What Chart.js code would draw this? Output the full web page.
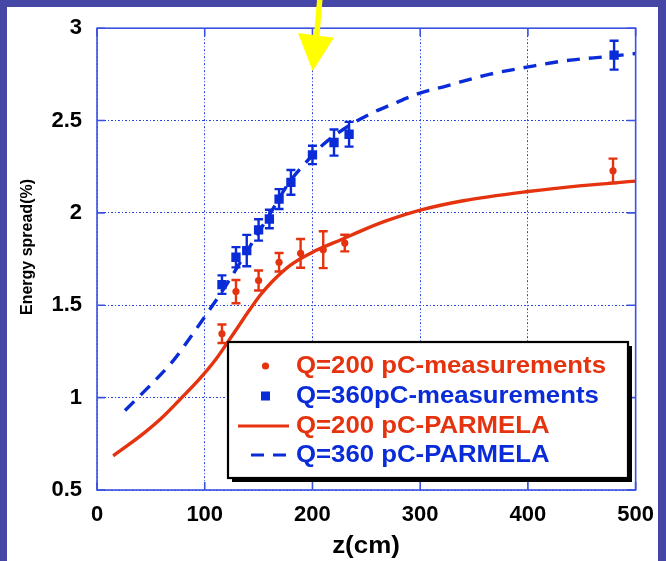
<!DOCTYPE html>
<html>
<head>
<meta charset="utf-8">
<script src="https://cdn.jsdelivr.net/npm/chart.js@4/dist/chart.umd.min.js"></script>
<style>
  html, body { margin: 0; padding: 0; background: #4646a6; }
  #wrap { width: 666px; height: 561px; }
</style>
</head>
<body>
<div id="wrap"><canvas id="c" width="666" height="561"></canvas></div>
<script>
// Beam line position z (cm) and measured energy spread (%)
const meas200Z = [116, 129, 150, 169, 189, 210, 230, 479];
const meas200 = [1.346, 1.574, 1.634, 1.733, 1.781, 1.801, 1.837, 2.228];
const meas200Err = [0.05, 0.063, 0.054, 0.05, 0.078, 0.10, 0.045, 0.066];

const meas360Z = [116, 129, 139, 150, 160, 169, 180, 200, 220, 234, 480];
const meas360 = [1.612, 1.760, 1.796, 1.908, 1.967, 2.075, 2.165, 2.314, 2.381, 2.426, 2.854];
const meas360Err = [0.05, 0.055, 0.085, 0.058, 0.05, 0.054, 0.067, 0.05, 0.071, 0.067, 0.078];

// PARMELA simulation curves
const sim200Z = [15, 30, 45, 60, 77, 95, 110, 121, 132, 142, 152, 162, 179, 203, 228, 250, 271, 300, 340, 400, 450, 500];
const sim200 = [0.685, 0.748, 0.815, 0.89, 0.99, 1.10, 1.205, 1.297, 1.392, 1.478, 1.558, 1.625, 1.715, 1.796, 1.859, 1.915, 1.962, 2.015, 2.066, 2.116, 2.148, 2.172];

const sim360Z = [26, 38, 50, 71, 89, 103, 120, 140, 160, 179, 195, 210, 232, 256, 274, 299, 324, 364, 399, 432, 478, 500];
const sim360 = [0.93, 1.0, 1.07, 1.202, 1.346, 1.463, 1.61, 1.80, 1.99, 2.17, 2.28, 2.37, 2.465, 2.543, 2.588, 2.647, 2.687, 2.75, 2.789, 2.822, 2.849, 2.863];

const xTicks = [0, 100, 200, 300, 400, 500];
const yTicks = [0.5, 1, 1.5, 2, 2.5, 3];
const yTickLabels = ['0.5', '1', '1.5', '2', '2.5', '3'];

const legendLabels = ['Q=200 pC-measurements', 'Q=360pC-measurements', 'Q=200 pC-PARMELA', 'Q=360 pC-PARMELA'];
const xTitle = 'z(cm)';
const yTitle = 'Energy spread(%)';

const RED = '#e5330f';
const BLUE = '#0a2bd8';
const GRID = '#2a44e0';
const FONT = "'Liberation Sans', Arial, sans-serif";

const pts = (xs, ys) => xs.map((x, i) => ({ x: x, y: ys[i] }));

// Slide background with white panel
const backdrop = {
  id: 'backdrop',
  beforeDraw(chart) {
    const ctx = chart.ctx;
    ctx.save();
    ctx.fillStyle = '#4646a6';
    ctx.fillRect(0, 0, chart.width, chart.height);
    ctx.fillStyle = '#ffffff';
    ctx.fillRect(7, 7, 651, chart.height - 7);
    ctx.restore();
  }
};

// Vertical error bars for the measurement series
const errorBars = {
  id: 'errorBars',
  afterDatasetsDraw(chart) {
    const ctx = chart.ctx;
    const ys = chart.scales.y;
    chart.data.datasets.forEach((ds, di) => {
      if (!ds.errors) return;
      const meta = chart.getDatasetMeta(di);
      ctx.save();
      ctx.strokeStyle = ds.borderColor;
      ctx.lineWidth = 2.4;
      meta.data.forEach((el, i) => {
        const v = ds.data[i].y, e = ds.errors[i];
        const x = el.x;
        const y1 = ys.getPixelForValue(v + e);
        const y2 = ys.getPixelForValue(v - e);
        ctx.beginPath();
        ctx.moveTo(x, y1); ctx.lineTo(x, y2);
        ctx.moveTo(x - 4.5, y1); ctx.lineTo(x + 4.5, y1);
        ctx.moveTo(x - 4.5, y2); ctx.lineTo(x + 4.5, y2);
        ctx.stroke();
      });
      ctx.restore();
    });
  }
};

// Plot frame, inward ticks, titles, legend box and pointer arrow
const decorations = {
  id: 'decorations',
  afterDraw(chart) {
    const ctx = chart.ctx;
    const a = chart.chartArea;
    const xs = chart.scales.x, ys = chart.scales.y;
    ctx.save();

    // frame
    ctx.strokeStyle = '#3a52e2';
    ctx.lineWidth = 1.6;
    ctx.strokeRect(a.left, a.top, a.right - a.left, a.bottom - a.top);

    // inward tick marks on all four sides
    ctx.beginPath();
    xTicks.forEach(v => {
      const x = xs.getPixelForValue(v);
      ctx.moveTo(x, a.bottom); ctx.lineTo(x, a.bottom - 8);
      ctx.moveTo(x, a.top); ctx.lineTo(x, a.top + 8);
    });
    yTicks.forEach(v => {
      const y = ys.getPixelForValue(v);
      ctx.moveTo(a.left, y); ctx.lineTo(a.left + 8, y);
      ctx.moveTo(a.right, y); ctx.lineTo(a.right - 9, y);
    });
    ctx.stroke();

    // axis titles
    ctx.fillStyle = '#000000';
    ctx.textAlign = 'center';
    ctx.textBaseline = 'middle';
    ctx.save();
    ctx.translate(366, 546);
    ctx.scale(1.08, 1);
    ctx.font = 'bold 24px ' + FONT;
    ctx.fillText(xTitle, 0, 0);
    ctx.restore();

    ctx.save();
    ctx.translate(28, 247);
    ctx.rotate(-Math.PI / 2);
    ctx.font = 'bold 16px ' + FONT;
    ctx.fillText(yTitle, 0, 0);
    ctx.restore();

    // legend box with drop shadow
    const bx = 228, by = 342, bw = 400, bh = 136;
    ctx.fillStyle = '#000000';
    ctx.fillRect(bx + 4, by + 4, bw, bh);
    ctx.fillStyle = '#ffffff';
    ctx.fillRect(bx, by, bw, bh);
    ctx.strokeStyle = '#000000';
    ctx.lineWidth = 2.2;
    ctx.strokeRect(bx, by, bw, bh);

    const rows = [366, 396, 426, 455];
    const colors = [RED, BLUE, RED, BLUE];
    // markers
    ctx.fillStyle = RED;
    ctx.beginPath(); ctx.arc(265.5, rows[0], 3.6, 0, Math.PI * 2); ctx.fill();
    ctx.fillStyle = BLUE;
    ctx.fillRect(261, rows[1] - 4.5, 9, 9);
    // line samples
    ctx.lineWidth = 3.2;
    ctx.strokeStyle = RED;
    ctx.beginPath(); ctx.moveTo(238, rows[2]); ctx.lineTo(289, rows[2]); ctx.stroke();
    ctx.strokeStyle = BLUE;
    ctx.setLineDash([13, 9]);
    ctx.lineDashOffset = 0;
    ctx.beginPath(); ctx.moveTo(251, rows[3]); ctx.lineTo(289, rows[3]); ctx.stroke();
    ctx.setLineDash([]);

    // legend texts
    ctx.textAlign = 'left';
    ctx.textBaseline = 'middle';
    legendLabels.forEach((t, i) => {
      ctx.save();
      ctx.translate(296, rows[i] + 1);
      ctx.scale(1.12, 1);
      ctx.font = 'bold 23px ' + FONT;
      ctx.fillStyle = colors[i];
      ctx.fillText(t, 0, 0);
      ctx.restore();
    });

    // yellow pointer arrow
    ctx.fillStyle = '#ffff00';
    ctx.beginPath();
    ctx.moveTo(317, 0);
    ctx.lineTo(322.5, 0);
    ctx.lineTo(319.5, 36);
    ctx.lineTo(334, 37.5);
    ctx.lineTo(312.7, 71);
    ctx.lineTo(298, 33);
    ctx.lineTo(314, 35);
    ctx.closePath();
    ctx.fill();

    ctx.restore();
  }
};

new Chart(document.getElementById('c'), {
  type: 'scatter',
  data: {
    datasets: [
      {
        label: legendLabels[2],
        data: pts(sim200Z, sim200),
        showLine: true,
        borderColor: RED,
        borderWidth: 3.4,
        pointRadius: 0,
        cubicInterpolationMode: 'monotone',
        order: 3
      },
      {
        label: legendLabels[3],
        data: pts(sim360Z, sim360),
        showLine: true,
        borderColor: BLUE,
        borderWidth: 3.4,
        borderDash: [13, 9],
        pointRadius: 0,
        cubicInterpolationMode: 'monotone',
        order: 4
      },
      {
        label: legendLabels[0],
        data: pts(meas200Z, meas200),
        errors: meas200Err,
        borderColor: RED,
        backgroundColor: RED,
        pointStyle: 'circle',
        pointRadius: 3.6,
        pointBorderWidth: 0,
        order: 1
      },
      {
        label: legendLabels[1],
        data: pts(meas360Z, meas360),
        errors: meas360Err,
        borderColor: BLUE,
        backgroundColor: BLUE,
        pointStyle: 'rect',
        pointRadius: 6.6,
        pointBorderWidth: 0,
        order: 2
      }
    ]
  },
  options: {
    responsive: false,
    animation: false,
    devicePixelRatio: 1,
    layout: { padding: { left: 0, top: 27, right: 29, bottom: 0 } },
    plugins: {
      legend: { display: false },
      tooltip: { enabled: false }
    },
    scales: {
      x: {
        type: 'linear',
        min: 0, max: 500,
        afterFit(s) { s.height = 71; },
        afterBuildTicks(s) { s.ticks = xTicks.map(v => ({ value: v })); },
        grid: { color: GRID, lineWidth: 1, drawTicks: false },
        border: { display: false, dash: [2, 2, 1, 2] },
        ticks: {
          padding: 12,
          color: '#000000',
          font: { family: FONT, size: 22, weight: 'bold' },
          maxRotation: 0
        }
      },
      y: {
        type: 'linear',
        min: 0.5, max: 3,
        afterFit(s) { s.width = 97; },
        afterBuildTicks(s) { s.ticks = yTicks.map(v => ({ value: v })); },
        grid: { color: GRID, lineWidth: 1, drawTicks: false },
        border: { display: false, dash: [2, 2, 1, 2] },
        ticks: {
          padding: 15,
          color: '#000000',
          font: { family: FONT, size: 22, weight: 'bold' },
          callback: (v) => yTickLabels[yTicks.indexOf(v)] ?? ''
        }
      }
    }
  },
  plugins: [backdrop, errorBars, decorations]
});
</script>
</body>
</html>
